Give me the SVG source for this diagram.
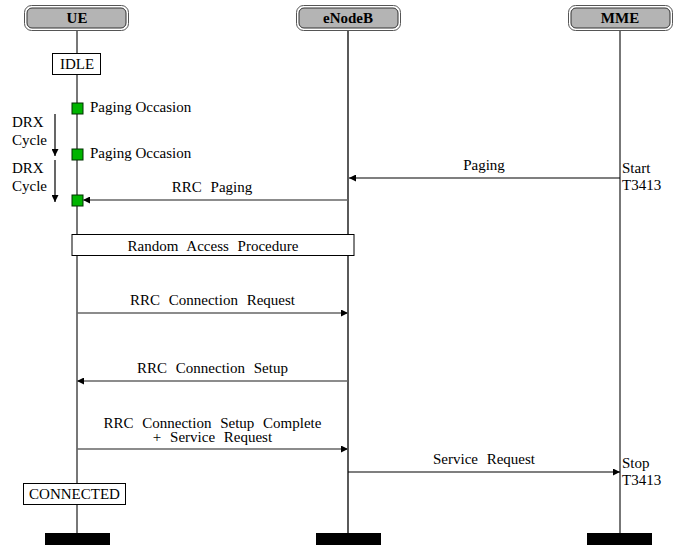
<svg xmlns="http://www.w3.org/2000/svg" width="678" height="545" viewBox="0 0 678 545">
<style>
text{font-size:15px;fill:#000}
.hdr{font-weight:bold;text-anchor:middle}
.lbl{text-anchor:middle;word-spacing:5px}
.ctr{text-anchor:middle}
.outer{fill:#fff;stroke:#555;stroke-width:1}
.inner{fill:#b4b4b4;stroke:#333;stroke-width:1}
.lifeg{stroke:#777;stroke-width:2}
.lifek{stroke:#000;stroke-width:1.3}
.bar{fill:#000}
.box{fill:#fff;stroke:#000;stroke-width:1}
.po{fill:#00b400;stroke:#003000;stroke-width:1}
.msg{stroke:#000;stroke-width:1.2;fill:none}
.msgg{stroke:#666;stroke-width:1.6;fill:none}
</style>
<defs>
<marker id="ah" viewBox="0 0 10 10" refX="10" refY="5" markerWidth="7" markerHeight="7" markerUnits="userSpaceOnUse" orient="auto">
<path d="M0,0 L10,5 L0,10 z" fill="#000"/>
</marker>
</defs>

<g id="lifelines">
<line class="lifeg" x1="77" y1="30" x2="77" y2="534"/>
<line class="lifek" x1="348" y1="30" x2="348" y2="534"/>
<line class="lifeg" x1="620" y1="30" x2="620" y2="534"/>
</g>

<g id="UE">
<rect class="outer" x="24.5" y="5.5" width="104" height="25" rx="7"/>
<rect class="inner" x="27" y="8" width="99" height="20" rx="5"/>
<text class="hdr" x="77" y="23" font-family="Liberation Serif">UE</text>
<rect class="bar" x="45" y="533" width="65" height="12"/>
</g>
<g id="eNodeB">
<rect class="outer" x="296.5" y="5.5" width="104" height="25" rx="7"/>
<rect class="inner" x="299" y="8" width="99" height="20" rx="5"/>
<text class="hdr" x="348" y="23" font-family="Liberation Serif">eNodeB</text>
<rect class="bar" x="316" y="533" width="65" height="12"/>
</g>
<g id="MME">
<rect class="outer" x="568.5" y="5.5" width="104" height="25" rx="7"/>
<rect class="inner" x="571" y="8" width="99" height="20" rx="5"/>
<text class="hdr" x="620" y="23" font-family="Liberation Serif">MME</text>
<rect class="bar" x="587" y="533" width="65" height="12"/>
</g>

<g id="IDLE">
<rect class="box" x="52.5" y="53.5" width="48" height="21"/>
<text class="ctr" x="77" y="69" font-family="Liberation Serif">IDLE</text>
</g>

<g id="paging-occasions">
<rect class="po" x="72" y="103" width="11" height="11"/>
<text x="90" y="112" font-family="'Liberation Serif'">Paging Occasion</text>
<rect class="po" x="72" y="149" width="11" height="11"/>
<text x="90" y="158" font-family="'Liberation Serif'">Paging Occasion</text>
<rect class="po" x="72" y="195" width="11" height="11"/>
</g>

<g id="drx">
<text x="12" y="127" font-family="Liberation Serif">DRX</text>
<text x="12" y="145" font-family="Liberation Serif">Cycle</text>
<line class="msg" x1="55" y1="114" x2="55" y2="156" marker-end="url(#ah)"/>
<text x="12" y="173" font-family="Liberation Serif">DRX</text>
<text x="12" y="191" font-family="Liberation Serif">Cycle</text>
<line class="msg" x1="55" y1="160" x2="55" y2="202" marker-end="url(#ah)"/>
</g>

<g id="RandomAccess">
<rect class="box" x="72" y="234.5" width="282" height="21"/>
<text class="lbl" x="213" y="251" font-family="Liberation Serif, serif">Random Access Procedure</text>
</g>

<g id="CONNECTED">
<rect class="box" x="23.5" y="483.5" width="102" height="21"/>
<text class="ctr" x="74.5" y="499" font-family="Liberation Serif">CONNECTED</text>
</g>

<g id="timers">
<text x="622" y="173" font-family="Liberation Serif">Start</text>
<text x="622" y="190" font-family="Liberation Serif">T3413</text>
<text x="622" y="468" font-family="Liberation Serif">Stop</text>
<text x="622" y="485" font-family="Liberation Serif">T3413</text>
</g>

<g id="connectors">
<line class="msg" x1="620" y1="178" x2="349" y2="178" marker-end="url(#ah)"/>
<text class="lbl" x="484" y="170" font-family="Liberation Serif">Paging</text>
<line class="msgg" x1="348" y1="200" x2="83" y2="200" marker-end="url(#ah)"/>
<text class="lbl" x="212" y="192" font-family="Liberation Serif">RRC Paging</text>
<line class="msgg" x1="77" y1="313" x2="348" y2="313" marker-end="url(#ah)"/>
<text class="lbl" x="212.5" y="305" font-family="Liberation Serif">RRC Connection Request</text>
<line class="msgg" x1="348" y1="381" x2="77" y2="381" marker-end="url(#ah)"/>
<text class="lbl" x="212.5" y="373" font-family="Liberation Serif">RRC Connection Setup</text>
<line class="msgg" x1="77" y1="449" x2="348" y2="449" marker-end="url(#ah)"/>
<text class="lbl" x="212.5" y="428" font-family="Liberation Serif">RRC Connection Setup Complete</text>
<text class="lbl" x="212.5" y="442" font-family="Liberation Serif">+ Service Request</text>
<line class="msg" x1="348" y1="472" x2="620" y2="472" marker-end="url(#ah)"/>
<text class="lbl" x="484" y="464" font-family="Liberation Serif">Service Request</text>
</g>
</svg>
